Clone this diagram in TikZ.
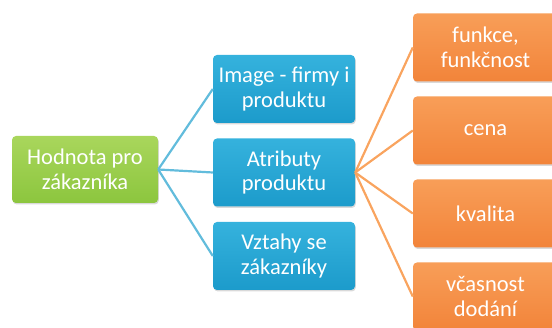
\documentclass[tikz,border=0pt]{standalone}
\usepackage{fontspec}
\setmainfont{Carlito}
\usetikzlibrary{shadows}

\definecolor{zelena}{HTML}{8CC63E}
\definecolor{zelenasvetla}{HTML}{A9D65C}
\definecolor{modra}{HTML}{1C9BCB}
\definecolor{modrasvetla}{HTML}{35B2DD}
\definecolor{oranzova}{HTML}{F2843A}
\definecolor{oranzovasvetla}{HTML}{F89E58}
\definecolor{modracara}{HTML}{62BCDC}
\definecolor{oranzovacara}{HTML}{F9A45F}

\tikzset{
  box/.style={rounded corners=4pt, minimum height=68pt, inner sep=1pt,
    text=white, align=center, font=\fontsize{22.5}{24.5}\selectfont,
    drop shadow={shadow xshift=0.8pt, shadow yshift=-1.5pt, opacity=0.3}},
  zelenybox/.style={box, minimum width=146pt, minimum height=67pt,
    top color=zelenasvetla, bottom color=zelena},
  modrybox/.style={box, minimum width=142pt,
    top color=modrasvetla, bottom color=modra},
  oranzovybox/.style={box, minimum width=145pt,
    top color=oranzovasvetla, bottom color=oranzova},
  modracara/.style={draw=modracara, line width=2.2pt},
  oranzovacara/.style={draw=oranzovacara, line width=2.2pt}
}

\def\stepo{83}

\begin{document}
\begin{tikzpicture}[x=1pt, y=1pt]
  \useasboundingbox (0,0) rectangle (552,-328);

  % koren
  \node[zelenybox] (hodnota) at (85,-169.5) {Hodnota pro\\zákazníka};

  % druha uroven
  \node[modrybox] (image) at (284,-89) {Image - firmy i\\produktu};
  \node[modrybox] (atributy) at (284,-172.5) {Atributy\\produktu};
  \node[modrybox] (vztahy) at (284,-256) {Vztahy se\\zákazníky};

  \foreach \c in {image,atributy,vztahy}{
    \path[modracara] (hodnota.east) -- (\c.west);
  }

  % treti uroven
  \foreach \i/\txt in {0/{funkce,\\funkčnost}, 1/cena, 2/kvalita, 3/{včasnost\\dodání}}{
    \pgfmathparse{-47.5-\stepo*\i}
    \let\oy\pgfmathresult
    \node[oranzovybox] (attr\i) at (485.5,\oy) {\txt};
    \path[oranzovacara] (atributy.east) -- (attr\i.west);
  }

\end{tikzpicture}
\end{document}
